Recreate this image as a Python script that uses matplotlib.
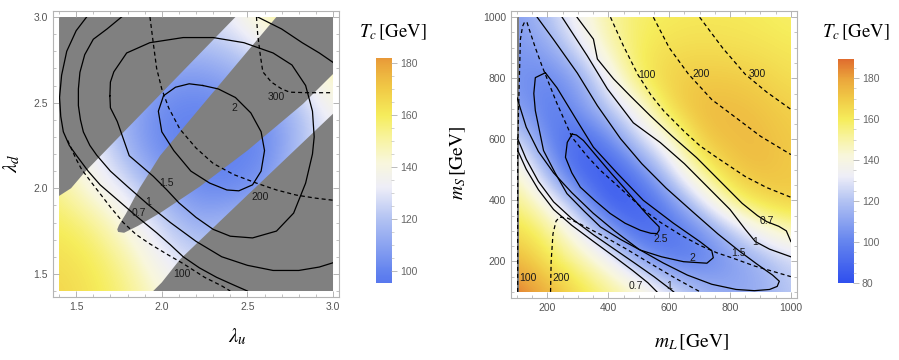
#!/usr/bin/env python3
import matplotlib
matplotlib.use('Agg')
import matplotlib.pyplot as plt
import matplotlib.patches as mplpatches
from matplotlib.colors import LinearSegmentedColormap, Normalize
from matplotlib.ticker import MultipleLocator, FormatStrFormatter
import numpy as np

plt.rcParams['font.family'] = ['Liberation Sans', 'DejaVu Sans']
plt.rcParams['mathtext.fontset'] = 'stix'

# Tc colour scale shared by both panels (value -> colour)
tcStops = [80, 100, 120, 132, 142, 152, 160, 170, 180, 190]
tcColors = ['#3050ee', '#6585ef', '#b3c3f3', '#eeeef8', '#f9f7dc',
            '#f8f39a', '#f6ed5c', '#f1cb47', '#eba63c', '#e06a2e']

# ---------------- left panel: lambda_u / lambda_d ----------------
leftGrid = [1.4, 1.6, 1.8, 2.0, 2.2, 2.4, 2.6, 2.8, 3.0]
# Tc, rows are lambda_d = 1.4 ... 3.0
leftTc = [
    [167, 162, 155, 142, 132, 128, 128, 130, 135],
    [164, 160, 150, 132, 125, 120, 118, 120, 126],
    [160, 154, 138, 125, 112, 118, 120, 122, 125],
    [154, 138, 130, 112, 102, 100, 108, 122, 128],
    [146, 134, 116, 102, 99, 99, 100, 120, 132],
    [140, 128, 112, 100, 99, 99, 103, 116, 135],
    [138, 126, 118, 106, 103, 108, 116, 128, 145],
    [138, 130, 124, 118, 116, 120, 130, 140, 155],
    [140, 136, 130, 128, 128, 132, 148, 158, 162],
]
# regions without a value (grey)
leftGrayUpper = [(1.4, 3.0), (2.43, 3.0), (1.55, 2.094), (1.47, 2.0), (1.4, 1.955)]
leftGrayTongue = [(2.669, 3.0), (2.222, 2.468), (1.99, 2.19), (1.87, 2.0), (1.79, 1.85),
                  (1.75, 1.785), (1.74, 1.76), (1.745, 1.745), (1.78, 1.74), (1.86, 1.78),
                  (1.989, 1.855), (2.222, 2.01), (2.5, 2.22), (2.825, 2.493), (3.0, 2.667),
                  (3.0, 3.0)]
leftGrayLower = [(1.95, 1.4), (2.0, 1.45), (2.106, 1.584), (2.5, 1.96), (3.0, 2.435), (3.0, 1.4)]
# solid contours of vc/Tc
leftXi07 = [(1.561, 3.0), (1.50, 2.92), (1.445, 2.80), (1.415, 2.66), (1.403, 2.53),
            (1.41, 2.42), (1.425, 2.33), (1.46, 2.25), (1.503, 2.19), (1.57, 2.10),
            (1.64, 2.02), (1.75, 1.925), (1.86, 1.83), (1.97, 1.74), (2.05, 1.67),
            (2.125, 1.60), (2.22, 1.535), (2.32, 1.48), (2.42, 1.435), (2.50, 1.40)]
leftXi1 = [(1.765, 3.0), (1.68, 2.93), (1.60, 2.87), (1.55, 2.78), (1.522, 2.677),
           (1.513, 2.58), (1.513, 2.483), (1.525, 2.40), (1.542, 2.329), (1.58, 2.25),
           (1.62, 2.193), (1.70, 2.10), (1.80, 2.01), (1.92, 1.905), (2.05, 1.80),
           (2.20, 1.69), (2.35, 1.60), (2.50, 1.55), (2.65, 1.52), (2.80, 1.52),
           (2.92, 1.54), (3.0, 1.565)]
leftXi1Corner = [(2.56, 3.0), (2.70, 2.93), (2.82, 2.85), (2.92, 2.79), (3.0, 2.735)]
leftXi15 = [(1.697, 2.54), (1.70, 2.62), (1.72, 2.68), (1.795, 2.79), (1.93, 2.85),
            (2.125, 2.88), (2.30, 2.88), (2.48, 2.85), (2.65, 2.79), (2.76, 2.72),
            (2.84, 2.60), (2.88, 2.45), (2.89, 2.30), (2.88, 2.20), (2.84, 2.03),
            (2.77, 1.855), (2.67, 1.75), (2.53, 1.71), (2.40, 1.72), (2.30, 1.76),
            (2.20, 1.83), (2.10, 1.915), (2.03, 1.99), (1.95, 2.07), (1.81, 2.19),
            (1.74, 2.39), (1.70, 2.47), (1.697, 2.54)]
leftXi2 = [(2.24, 2.60), (2.33, 2.58), (2.43, 2.53), (2.52, 2.44), (2.58, 2.33),
           (2.60, 2.22), (2.58, 2.10), (2.53, 2.02), (2.45, 1.985), (2.38, 1.99),
           (2.28, 2.03), (2.17, 2.10), (2.07, 2.22), (2.00, 2.33), (1.98, 2.45),
           (2.01, 2.54), (2.08, 2.59), (2.16, 2.61), (2.24, 2.60)]
# dashed contours
leftD100 = [(1.45, 2.28), (1.50, 2.17), (1.532, 2.11), (1.60, 2.02), (1.70, 1.89),
            (1.775, 1.80), (1.85, 1.73), (1.931, 1.675), (2.03, 1.615), (2.125, 1.56),
            (2.25, 1.48), (2.35, 1.43), (2.40, 1.40)]
leftD200 = [(1.931, 3.0), (1.95, 2.85), (1.97, 2.70), (2.00, 2.58), (2.04, 2.47),
            (2.106, 2.345), (2.20, 2.235), (2.30, 2.145), (2.42, 2.08), (2.553, 2.03),
            (2.67, 1.99), (2.786, 1.96), (2.90, 1.942), (3.0, 1.93)]
leftD300 = [(2.553, 3.0), (2.56, 2.90), (2.575, 2.78), (2.59, 2.68), (2.64, 2.62),
            (2.70, 2.58), (2.747, 2.561), (2.85, 2.558), (3.0, 2.558)]
leftLabels = [('2', 2.423, 2.468), ('1.5', 2.028, 2.032), ('1', 1.921, 1.918),
              ('0.7', 1.863, 1.854), ('300', 2.666, 2.532), ('200', 2.572, 1.947),
              ('100', 2.115, 1.502)]

# ---------------- right panel: m_L / m_S ----------------
rightGrid = [100, 200, 300, 400, 500, 600, 700, 800, 900, 1000]
# Tc, rows are m_S = 100 ... 1000
rightTc = [
    [189, 178, 165, 155, 146, 132, 118, 112, 113, 122],
    [176, 163, 152, 138, 114, 98, 98, 106, 114, 125],
    [165, 155, 136, 110, 88, 92, 102, 120, 138, 148],
    [155, 138, 112, 82, 86, 103, 128, 155, 166, 170],
    [146, 114, 86, 84, 101, 126, 154, 170, 174, 170],
    [128, 100, 88, 101, 125, 142, 170, 174, 174, 170],
    [110, 96, 104, 122, 138, 166, 174, 174, 172, 168],
    [105, 100, 110, 134, 160, 168, 170, 170, 168, 164],
    [106, 110, 128, 148, 160, 164, 165, 164, 163, 161],
    [108, 120, 137, 151, 158, 160, 161, 161, 160, 158],
]
rightGrayStrip = [(100, 100), (106, 100), (106, 1000), (100, 1000)]
rightXi07Up = [(297, 1000), (351, 928), (364, 863), (417, 798), (472, 742), (538, 677),
               (610, 610), (690, 540), (770, 460), (840, 390), (890, 350), (921, 330),
               (960, 315), (985, 300), (1000, 265)]
rightXi1Up = [(248, 1000), (331, 873), (397, 765), (482, 654), (571, 589), (650, 520),
              (730, 440), (800, 370), (850, 305), (883, 265), (930, 240), (1000, 215)]
rightXi07Low = [(100, 568), (130, 502), (170, 435), (220, 370), (280, 318), (350, 266),
                (420, 215), (480, 170), (530, 130), (560, 100)]
rightXi1Low = [(100, 606), (130, 535), (170, 462), (220, 395), (280, 340), (350, 288),
               (420, 240), (490, 192), (550, 150), (600, 112), (615, 100)]
rightXi15 = [(166, 1000), (219, 928), (298, 817), (364, 710), (440, 602), (510, 520),
             (590, 440), (680, 360), (760, 290), (829, 235), (890, 190), (940, 155),
             (962, 135), (955, 118), (930, 108), (880, 104), (820, 108), (740, 125),
             (660, 155), (580, 195), (500, 240), (420, 300), (350, 358), (280, 425),
             (220, 490), (170, 560), (130, 640), (100, 736)]
rightXi2 = [(193, 818), (160, 802), (155, 750), (160, 694), (187, 563), (225, 490),
            (264, 422), (320, 365), (374, 313), (440, 272), (505, 237), (575, 215),
            (647, 199), (724, 194), (745, 212), (740, 235), (702, 264), (614, 325),
            (515, 400), (430, 488), (351, 574), (297, 661), (231, 769), (193, 818)]
rightXi25 = [(281, 617), (265, 590), (259, 541), (280, 490), (308, 443), (355, 400),
             (406, 357), (455, 325), (505, 302), (540, 292), (560, 291), (567, 302),
             (567, 313), (540, 340), (515, 367), (450, 443), (410, 488), (374, 530),
             (318, 596), (295, 614), (281, 617)]
rightD100 = [(102, 100), (102, 300), (102, 557), (105, 700), (108, 819), (111, 928),
             (118, 970), (125, 985), (133, 982), (140, 960), (160, 900), (182, 840),
             (230, 720), (281, 606), (330, 545), (374, 498), (430, 448), (483, 400),
             (530, 358), (571, 328), (640, 285), (702, 252), (757, 228), (811, 210),
             (880, 185), (1000, 150)]
rightD200Low = [(210, 100), (212, 200), (218, 290), (228, 332), (240, 345), (265, 342),
                (308, 322), (380, 285), (460, 240), (540, 192), (620, 145), (702, 100)]
rightD100Up = [(407, 1000), (450, 905), (497, 812), (540, 745), (582, 693), (650, 625),
               (702, 578), (757, 540), (850, 478), (920, 442), (1000, 410)]
rightD200Up = [(548, 1000), (600, 900), (663, 814), (740, 730), (811, 677), (900, 610),
               (1000, 550)]
rightD300Up = [(700, 1000), (775, 900), (850, 813), (920, 755), (1000, 698)]
rightLabels = [('0.7', 920, 331), ('1', 882, 263), ('1.5', 829, 226), ('2', 675, 212),
               ('2.5', 571, 272), ('100', 527, 812), ('200', 704, 814), ('300', 888, 815),
               ('100', 135, 145), ('200', 244, 145), ('0.7', 489, 120), ('1', 600, 118)]

# ---------------- drawing ----------------
tcNorm = Normalize(tcStops[0], tcStops[-1])
tcMap = LinearSegmentedColormap.from_list(
    'tc', [((v - tcStops[0]) / (tcStops[-1] - tcStops[0]), c) for v, c in zip(tcStops, tcColors)])

figureWidth = 8.99
figureHeight = 3.6
fig = plt.figure(figsize=(figureWidth, figureHeight), dpi=100)


def makePanel(rect, grid, tc, pad, major, minor, fmt):
    ax = plt.axes(rect)
    lo, hi = grid[0], grid[-1]
    step = grid[1] - grid[0]
    img = ax.imshow(np.array(tc, dtype=float), origin='lower', cmap=tcMap, norm=tcNorm,
                    extent=[lo - step / 2, hi + step / 2, lo - step / 2, hi + step / 2],
                    interpolation='bicubic', aspect='auto', zorder=0)
    clip = mplpatches.Rectangle((lo, lo), hi - lo, hi - lo, transform=ax.transData)
    img.set_clip_path(clip)
    ax.set_xlim(lo - pad, hi + pad)
    ax.set_ylim(lo - pad, hi + pad)
    for axis in [ax.xaxis, ax.yaxis]:
        axis.set_major_locator(MultipleLocator(major))
        axis.set_minor_locator(MultipleLocator(minor))
        axis.set_major_formatter(FormatStrFormatter(fmt))
    ax.tick_params(which='both', direction='in', top=True, right=True, color='#a8a8a8',
                   labelsize=7.5, labelcolor='#555555', pad=3.5)
    ax.tick_params(which='major', length=4, width=0.6)
    ax.tick_params(which='minor', length=2, width=0.5)
    for spine in ax.spines.values():
        spine.set_color('#b4b4b4')
        spine.set_linewidth(0.8)
    return ax, clip


def drawLine(ax, pts, clip, dashed=False):
    xs = [p[0] for p in pts]
    ys = [p[1] for p in pts]
    style = (0, (3.2, 2.4)) if dashed else '-'
    line, = ax.plot(xs, ys, color='black', linewidth=0.9, linestyle=style,
                    solid_joinstyle='round', zorder=2)
    line.set_clip_path(clip)


def makeColorbar(rect, lo, hi):
    cax = plt.axes(rect)
    ramp = np.linspace(lo, hi, 200).reshape(-1, 1)
    cax.imshow(ramp, origin='lower', extent=[0, 1, lo, hi], aspect='auto',
               cmap=tcMap, norm=tcNorm)
    cax.set_xlim(0, 1)
    cax.set_ylim(lo, hi)
    cax.set_xticks([])
    cax.yaxis.tick_right()
    cax.yaxis.set_major_locator(MultipleLocator(20))
    cax.yaxis.set_minor_locator(MultipleLocator(5))
    cax.tick_params(which='both', direction='out', color='#b0b0b0',
                    labelsize=7.5, labelcolor='#666666', pad=2.5)
    cax.tick_params(which='major', length=4, width=0.6)
    cax.tick_params(which='minor', length=2, width=0.4)
    for spine in cax.spines.values():
        spine.set_visible(False)
    return cax


# left panel
leftAx, leftClip = makePanel([0.0590, 0.175, 0.3181, 0.7944], leftGrid, leftTc,
                             0.035, 0.5, 0.1, '%.1f')
for poly in [leftGrayUpper, leftGrayTongue, leftGrayLower]:
    leftAx.add_patch(mplpatches.Polygon(poly, closed=True, facecolor='#808080',
                                        edgecolor='none', zorder=1))
for pts in [leftXi07, leftXi1, leftXi1Corner, leftXi15, leftXi2]:
    drawLine(leftAx, pts, leftClip)
for pts in [leftD100, leftD200, leftD300]:
    drawLine(leftAx, pts, leftClip, dashed=True)
for text, x, y in leftLabels:
    leftAx.text(x, y, text, fontsize=7.5, color='#1a1a1a', ha='center', va='center', zorder=3)

# right panel
rightAx, rightClip = makePanel([0.5684, 0.1722, 0.3181, 0.797], rightGrid, rightTc,
                               20, 200, 50, '%d')
rightAx.add_patch(mplpatches.Polygon(rightGrayStrip, closed=True, facecolor='#808080',
                                     edgecolor='none', zorder=1))
for pts in [rightXi07Up, rightXi1Up, rightXi07Low, rightXi1Low, rightXi15, rightXi2, rightXi25]:
    drawLine(rightAx, pts, rightClip)
for pts in [rightD100, rightD200Low, rightD100Up, rightD200Up, rightD300Up]:
    drawLine(rightAx, pts, rightClip, dashed=True)
for text, x, y in rightLabels:
    rightAx.text(x, y, text, fontsize=7.5, color='#1a1a1a', ha='center', va='center', zorder=3)

# colour bars
makeColorbar([0.4182, 0.2139, 0.01669, 0.625], 95.4, 181.9)
makeColorbar([0.9321, 0.2139, 0.01669, 0.622], 80.0, 189.3)

# axis and bar titles
fig.text(0.2636, 0.064, r'$\lambda_u$', fontsize=15, ha='center', va='center')
fig.text(0.0133, 0.547, r'$\lambda_d$', fontsize=15, ha='center', va='center', rotation=90)
fig.text(0.7697, 0.050, r'$m_L\,[\mathrm{GeV}]$', fontsize=14, ha='center', va='center')
fig.text(0.5095, 0.547, r'$m_S\,[\mathrm{GeV}]$', fontsize=14, ha='center', va='center',
         rotation=90)
fig.text(0.4372, 0.911, r'$T_c\,[\mathrm{GeV}]$', fontsize=13.5, ha='center', va='center')
fig.text(0.9522, 0.911, r'$T_c\,[\mathrm{GeV}]$', fontsize=13.5, ha='center', va='center')

plt.savefig('out.png', dpi=100)
